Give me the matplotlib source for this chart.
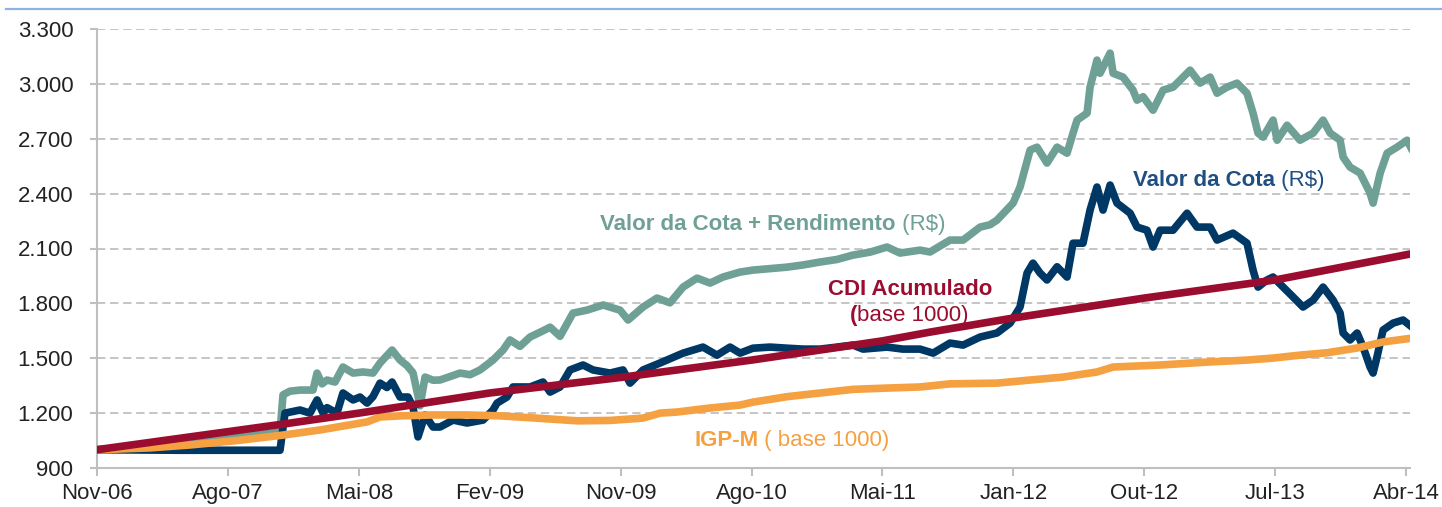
import matplotlib
matplotlib.use("Agg")
import matplotlib.pyplot as plt
from matplotlib.ticker import FuncFormatter, FixedLocator
from matplotlib.lines import Line2D

plt.rcParams['font.family'] = ['Liberation Sans', 'DejaVu Sans']
plt.rcParams['lines.scale_dashes'] = False

# x is measured in tick intervals (0 = Nov-06 ... 10 = Abr-14)
tick_labels = ["Nov-06", "Ago-07", "Mai-08", "Fev-09", "Nov-09", "Ago-10",
               "Mai-11", "Jan-12", "Out-12", "Jul-13", "Abr-14"]
y_ticks = [900, 1200, 1500, 1800, 2100, 2400, 2700, 3000, 3300]

# Valor da Cota + Rendimento (R$)
green_x = [0, 0.405, 0.710, 1.092, 1.398, 1.421, 1.474, 1.551, 1.650, 1.681, 1.719, 1.757,
           1.818, 1.879, 1.956, 2.032, 2.108, 2.162, 2.254, 2.315, 2.368, 2.414, 2.468,
           2.506, 2.567, 2.620, 2.697, 2.773, 2.850, 2.926, 3.025, 3.102, 3.155, 3.231,
           3.308, 3.407, 3.461, 3.537, 3.636, 3.743, 3.866, 3.995, 4.057, 4.171, 4.278,
           4.377, 4.477, 4.584, 4.683, 4.782, 4.912, 5.011, 5.141, 5.271, 5.393, 5.523,
           5.653, 5.775, 5.905, 6.035, 6.134, 6.287, 6.364, 6.516, 6.616, 6.746, 6.822,
           6.875, 6.998, 7.051, 7.128, 7.181, 7.257, 7.334, 7.410, 7.456, 7.487, 7.563,
           7.586, 7.639, 7.662, 7.739, 7.762, 7.838, 7.914, 7.945, 7.991, 8.067, 8.144,
           8.220, 8.297, 8.350, 8.426, 8.503, 8.556, 8.632, 8.709, 8.785, 8.831, 8.869,
           8.908, 8.984, 9.015, 9.091, 9.190, 9.290, 9.366, 9.420, 9.496, 9.519, 9.572,
           9.649, 9.725, 9.748, 9.802, 9.855, 9.931, 10.008, 10.046]
green_y = [1000, 1020, 1045, 1075, 1095, 1300, 1320, 1326, 1326, 1419, 1360, 1381,
           1370, 1452, 1419, 1425, 1419, 1474, 1545, 1490, 1460, 1420, 1240,
           1397, 1380, 1381, 1400, 1419, 1410, 1436, 1490, 1545, 1600, 1565,
           1616, 1650, 1670, 1620, 1747, 1763, 1791, 1763, 1709, 1780, 1829,
           1803, 1889, 1938, 1911, 1944, 1971, 1982, 1990, 1998, 2010, 2026,
           2040, 2064, 2080, 2108, 2075, 2091, 2081, 2146, 2146, 2217, 2230,
           2255, 2348, 2436, 2638, 2654, 2567, 2654, 2621, 2731, 2802, 2840,
           2982, 3130, 3058, 3168, 3058, 3037, 2966, 2911, 2930, 2856, 2966,
           2982, 3037, 3075, 3004, 3037, 2949, 2982, 3004, 2949, 2840, 2731,
           2709, 2802, 2692, 2774, 2692, 2731, 2802, 2731, 2692, 2600, 2545,
           2512, 2403, 2348, 2512, 2621, 2654, 2692, 2638]

# Valor da Cota (R$)
navy_x = [0, 0.634, 1.398, 1.436, 1.551, 1.627, 1.681, 1.727, 1.757, 1.833, 1.879, 1.956,
          2.009, 2.063, 2.108, 2.162, 2.215, 2.254, 2.315, 2.376, 2.414, 2.452, 2.506,
          2.567, 2.620, 2.720, 2.827, 2.949, 3.025, 3.056, 3.132, 3.178, 3.308, 3.407,
          3.461, 3.537, 3.613, 3.713, 3.789, 3.919, 4.018, 4.072, 4.171, 4.301, 4.477,
          4.629, 4.736, 4.836, 4.912, 5.011, 5.141, 5.271, 5.393, 5.523, 5.653, 5.775,
          5.852, 6.035, 6.157, 6.287, 6.387, 6.516, 6.616, 6.746, 6.875, 6.975, 7.051,
          7.105, 7.150, 7.204, 7.257, 7.334, 7.410, 7.456, 7.532, 7.586, 7.639, 7.685,
          7.739, 7.792, 7.892, 7.945, 8.021, 8.067, 8.121, 8.220, 8.327, 8.403, 8.503,
          8.556, 8.678, 8.785, 8.831, 8.869, 8.938, 8.984, 9.061, 9.137, 9.213, 9.290,
          9.366, 9.442, 9.496, 9.519, 9.572, 9.626, 9.672, 9.725, 9.748, 9.778, 9.824,
          9.901, 9.977, 10.046]
navy_y = [1000, 997, 997, 1200, 1217, 1200, 1272, 1200, 1230, 1200, 1310, 1272,
          1288, 1255, 1290, 1364, 1340, 1370, 1288, 1288, 1234, 1070, 1190,
          1124, 1124, 1162, 1146, 1162, 1217, 1255, 1288, 1343, 1343, 1370,
          1315, 1343, 1436, 1463, 1436, 1419, 1436, 1364, 1436, 1474, 1528,
          1561, 1517, 1561, 1528, 1555, 1561, 1555, 1550, 1550, 1561, 1572,
          1550, 1561, 1550, 1550, 1528, 1583, 1572, 1616, 1638, 1692, 1780,
          1966, 2020, 1966, 1928, 2000, 1944, 2129, 2129, 2310, 2436, 2310,
          2447, 2348, 2293, 2217, 2200, 2108, 2200, 2200, 2293, 2217, 2217,
          2146, 2184, 2129, 1982, 1889, 1928, 1944, 1889, 1835, 1780, 1818,
          1889, 1818, 1747, 1638, 1600, 1638, 1561, 1452, 1419, 1507, 1654,
          1692, 1709, 1670]

# CDI Acumulado (base 1000)
cdi_x = [0, 0.710, 1.421, 2.0, 3.0, 4.0, 5.0, 6.0, 6.364, 7.0, 8.0, 9.0, 10.046]
cdi_y = [1000, 1070, 1140, 1200, 1310, 1395, 1490, 1595, 1643, 1720, 1829, 1928, 2072]

# IGP-M (base 1000)
igp_x = [0, 0.405, 0.710, 1.069, 1.421, 1.704, 1.803, 2.063, 2.162, 2.315, 2.567, 2.827,
         3.079, 3.308, 3.667, 3.919, 4.171, 4.301, 4.431, 4.683, 4.912, 5.011, 5.271,
         5.523, 5.775, 6.035, 6.287, 6.516, 6.875, 7.128, 7.380, 7.639, 7.762, 8.121,
         8.480, 8.785, 8.984, 9.190, 9.397, 9.626, 9.824, 10.046]
igp_y = [1000, 1010, 1026, 1050, 1080, 1108, 1120, 1152, 1179, 1185, 1190, 1190,
         1185, 1175, 1158, 1160, 1173, 1200, 1206, 1228, 1244, 1260, 1290,
         1310, 1330, 1337, 1343, 1360, 1364, 1381, 1397, 1425, 1452, 1463,
         1479, 1490, 1501, 1517, 1530, 1556, 1589, 1610]

GREEN = '#6FA096'
NAVY = '#003865'
RED = '#9B0D2F'
ORANGE = '#F5A142'
GRID = '#C0C0C0'
AXIS = '#BFBFBF'

fig = plt.figure(figsize=(14.42, 5.07), dpi=100)
ax = fig.add_axes([97 / 1442, 1 - 468 / 507, (1410 - 97) / 1442, (468 - 29) / 507])

lw = 5.5
ax.plot(green_x, green_y, color=GREEN, lw=lw, solid_joinstyle='round', solid_capstyle='round', zorder=2)
ax.plot(navy_x, navy_y, color=NAVY, lw=lw, solid_joinstyle='round', solid_capstyle='round', zorder=3)
ax.plot(igp_x, igp_y, color=ORANGE, lw=lw, solid_joinstyle='round', solid_capstyle='round', zorder=4)
ax.plot(cdi_x, cdi_y, color=RED, lw=lw, solid_joinstyle='round', solid_capstyle='round', zorder=5)

ax.set_xlim(0, 10.03)
ax.set_ylim(900, 3300)
ax.xaxis.set_major_locator(FixedLocator(list(range(len(tick_labels)))))
ax.set_xticklabels(tick_labels)
ax.yaxis.set_major_locator(FixedLocator(y_ticks))
ax.yaxis.set_major_formatter(FuncFormatter(lambda v, p: f"{v:,.0f}".replace(",", ".")))

for s in ['top', 'right']:
    ax.spines[s].set_visible(False)
for s in ['left', 'bottom']:
    ax.spines[s].set_color(AXIS)
    ax.spines[s].set_linewidth(1.5)

ax.tick_params(axis='y', direction='out', length=5, width=1.5, color=AXIS,
               labelsize=16, labelcolor='#222222', pad=12)
ax.tick_params(axis='x', direction='out', length=6, width=1.5, color=AXIS,
               labelsize=16, labelcolor='#222222', pad=5)

ax.yaxis.grid(True, linestyle=(0, (6, 3.4)), color=GRID, lw=1.3)
ax.set_axisbelow(True)
for gl in ax.get_ygridlines():
    gl.set_zorder(0.5)

# labels
FS = 16
t1 = ax.text(3.843, 2233, "Valor da Cota + Rendimento", color=GREEN, fontsize=FS,
             fontweight='bold', ha='left', va='center')
ax.annotate(" (R$)", xy=(1, 0), xycoords=t1, color=GREEN, fontsize=FS,
            ha='left', va='bottom')

t2 = ax.text(7.914, 2474, "Valor da Cota", color='#1F4E82', fontsize=FS,
             fontweight='bold', ha='left', va='center')
ax.annotate(" (R$)", xy=(1, 0), xycoords=t2, color='#1F4E82', fontsize=FS,
            ha='left', va='bottom')

ax.text(5.584, 1878, "CDI Acumulado", color=RED, fontsize=FS, fontweight='bold',
        ha='left', va='center')
t3 = ax.text(5.752, 1731, "(", color=RED, fontsize=FS, fontweight='bold',
             ha='left', va='center')
ax.annotate("base 1000)", xy=(1, 0), xycoords=t3, color=RED, fontsize=FS,
            ha='left', va='bottom')

t4 = ax.text(4.561, 1053, "IGP-M", color=ORANGE, fontsize=FS, fontweight='bold',
             ha='left', va='center')
ax.annotate(" ( base 1000)", xy=(1, 0), xycoords=t4, color=ORANGE, fontsize=FS,
            ha='left', va='bottom')

# thin line at the top of the figure
fig.add_artist(Line2D([6 / 1442, 1.0], [1 - 9 / 507, 1 - 9 / 507],
                      color='#8DB3E2', lw=1.6, transform=fig.transFigure))

fig.savefig("out.png", dpi=100)
